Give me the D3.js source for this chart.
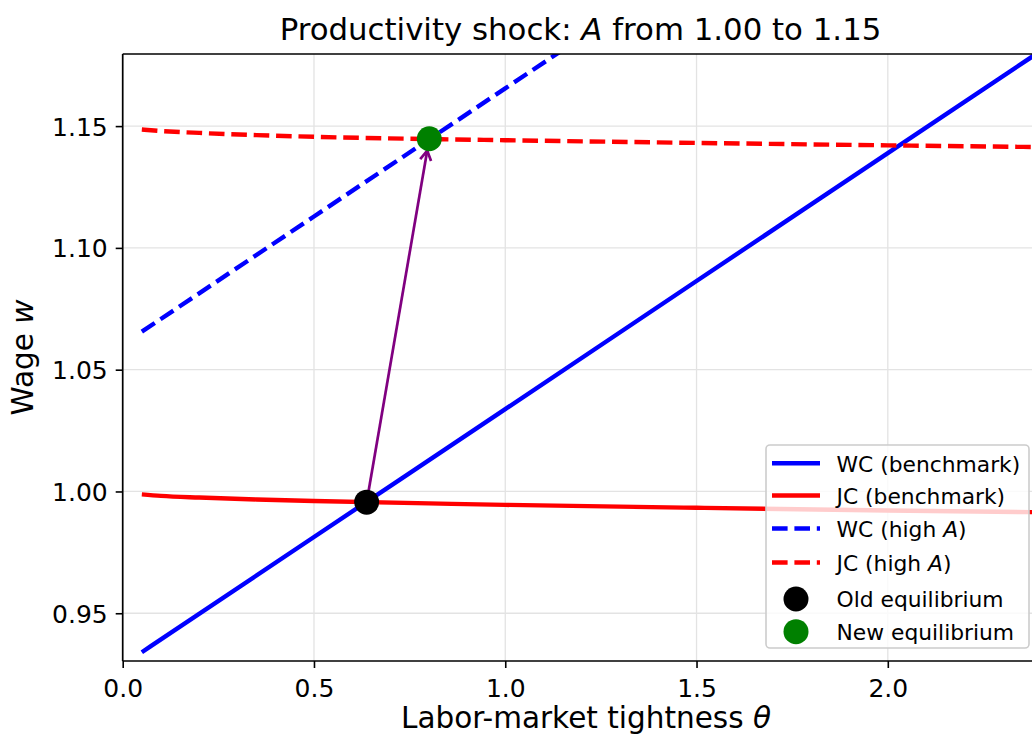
<!DOCTYPE html>
<html><head><meta charset="utf-8">
<script src="https://cdn.jsdelivr.net/npm/d3@7"></script>
<style>body{margin:0;background:#fff} text{font-family:"DejaVu Sans",sans-serif;fill:#000}</style>
</head><body><svg id="c" width="1032" height="735"></svg>
<script>
// ---- data ----
const thetaWC = [0.05, 0.5, 1.0, 1.5, 2.0, 2.5];
const wcBench = [0.934, 0.9813, 1.0338, 1.0864, 1.1389, 1.1914];
const thetaWCHigh = [0.05, 0.5, 1.0, 1.5];
const wcHigh = [1.0656, 1.1129, 1.1655, 1.2180];
const thetaJC = [0.05, 0.1, 0.2, 0.35, 0.5, 0.8, 1.0, 1.5, 2.0, 2.5];
const jcBench = [0.9988, 0.9982, 0.9975, 0.9967, 0.9961, 0.9951, 0.9945, 0.9933, 0.9922, 0.9913];
const jcHigh  = [1.1486, 1.1480, 1.1472, 1.1463, 1.1456, 1.1447, 1.1442, 1.1431, 1.1421, 1.1412];
const eqOld = [0.6377, 0.9956];
const eqNew = [0.8014, 1.1448];
const xTicks = [0.0, 0.5, 1.0, 1.5, 2.0];
const yTicks = [0.95, 1.00, 1.05, 1.10, 1.15];
const xDomain = [0, 2.39];
const yDomain = [0.9304, 1.1796];

const svg = d3.select("#c");
const L = 122.7, R = 1037, T = 54, B = 661;
const x = d3.scaleLinear().domain(xDomain).range([L, R]);
const y = d3.scaleLinear().domain(yDomain).range([B, T]);

svg.append("rect").attr("width",1032).attr("height",735).attr("fill","#fff");
svg.append("defs").append("clipPath").attr("id","clip")
  .append("rect").attr("x",L).attr("y",T).attr("width",R-L).attr("height",B-T);

// grid
const grid = svg.append("g").attr("clip-path","url(#clip)");
grid.selectAll(".gx").data(xTicks).join("line")
  .attr("x1",d=>x(d)).attr("x2",d=>x(d)).attr("y1",T).attr("y2",B)
  .attr("stroke","#e3e3e3").attr("stroke-width",1.3);
grid.selectAll(".gy").data(yTicks).join("line")
  .attr("y1",d=>y(d)).attr("y2",d=>y(d)).attr("x1",L).attr("x2",R)
  .attr("stroke","#e3e3e3").attr("stroke-width",1.3);

const plot = svg.append("g").attr("clip-path","url(#clip)");
const line = d3.line().x(d=>x(d[0])).y(d=>y(d[1])).curve(d3.curveMonotoneX);
const zip = (a,b)=>a.map((v,i)=>[v,b[i]]);
const DASH = "15.6 6.8";
const series = [
  {data: zip(thetaWC, wcBench), color:"#0000ff", dash:null},
  {data: zip(thetaJC, jcBench), color:"#ff0000", dash:null},
  {data: zip(thetaWCHigh, wcHigh), color:"#0000ff", dash:DASH},
  {data: zip(thetaJC, jcHigh), color:"#ff0000", dash:DASH}
];
series.forEach(s=>{
  plot.append("path").attr("d",line(s.data)).attr("fill","none")
    .attr("stroke",s.color).attr("stroke-width",4.4)
    .attr("stroke-dasharray",s.dash);
});

// arrow
const p0 = [x(eqOld[0]), y(eqOld[1])], p1 = [x(eqNew[0]), y(eqNew[1])];
const dx = p1[0]-p0[0], dy = p1[1]-p0[1], len = Math.hypot(dx,dy);
const ux = dx/len, uy = dy/len;
const tip = [p1[0]-ux*12, p1[1]-uy*12];
plot.append("line").attr("x1",p0[0]).attr("y1",p0[1]).attr("x2",tip[0]).attr("y2",tip[1])
  .attr("stroke","#800080").attr("stroke-width",2.7);
const hl = 11, ang = 30*Math.PI/180;
function rot(vx,vy,a){return [vx*Math.cos(a)-vy*Math.sin(a), vx*Math.sin(a)+vy*Math.cos(a)];}
const l1 = rot(-ux,-uy,ang), l2 = rot(-ux,-uy,-ang);
plot.append("path")
  .attr("d",`M${tip[0]+l1[0]*hl},${tip[1]+l1[1]*hl}L${tip[0]},${tip[1]}L${tip[0]+l2[0]*hl},${tip[1]+l2[1]*hl}`)
  .attr("fill","none").attr("stroke","#800080").attr("stroke-width",2.7);

// equilibrium points
plot.append("circle").attr("cx",x(eqOld[0])).attr("cy",y(eqOld[1])).attr("r",12.5).attr("fill","#000");
plot.append("circle").attr("cx",x(eqNew[0])).attr("cy",y(eqNew[1])).attr("r",12.5).attr("fill","#008000");

// spines
[[L,L,T,B],[L,R,B,B],[L,R,T,T],[R,R,T,B]].forEach(s=>{
  svg.append("line").attr("x1",s[0]).attr("x2",s[1]).attr("y1",s[2]).attr("y2",s[3])
    .attr("stroke","#000").attr("stroke-width",1.7);
});

// axes ticks
const xAxis = d3.axisBottom(x).tickValues(xTicks).tickFormat(d3.format(".1f")).tickSize(7).tickPadding(9);
const gx = svg.append("g").attr("transform",`translate(0,${B})`).call(xAxis);
gx.select(".domain").remove();
gx.selectAll("line").attr("stroke","#000").attr("stroke-width",1.6);
gx.selectAll("text").attr("font-size",25).attr("font-family","DejaVu Sans").attr("fill","#000").attr("dy",null).attr("y",36);

const yAxis = d3.axisLeft(y).tickValues(yTicks).tickFormat(d3.format(".2f")).tickSize(7).tickPadding(8);
const gy = svg.append("g").attr("transform",`translate(${L},0)`).call(yAxis);
gy.select(".domain").remove();
gy.selectAll("line").attr("stroke","#000").attr("stroke-width",1.6);
gy.selectAll("text").attr("font-size",25).attr("font-family","DejaVu Sans").attr("fill","#000").attr("dy","0.36em").attr("x",-15);

// title
const title = svg.append("text").attr("x",580.5).attr("y",40).attr("text-anchor","middle").attr("font-size",30.8);
title.append("tspan").text("Productivity shock: ");
title.append("tspan").attr("font-style","italic").text("A");
title.append("tspan").text(" from 1.00 to 1.15");

// axis labels
const xl = svg.append("text").attr("x",586).attr("y",728).attr("text-anchor","middle").attr("font-size",29.5);
xl.append("tspan").text("Labor-market tightness ");
xl.append("tspan").attr("font-style","italic").text("θ");
const yl = svg.append("text").attr("transform",`translate(33,${(T+B)/2}) rotate(-90)`).attr("text-anchor","middle").attr("font-size",29.5);
yl.append("tspan").text("Wage ");
yl.append("tspan").attr("font-style","italic").text("w");

// legend
const legendItems = [
  {pre:"WC (benchmark)", it:"", post:"", type:"line", color:"#0000ff", dash:null, cy:463.3},
  {pre:"JC (benchmark)", it:"", post:"", type:"line", color:"#ff0000", dash:null, cy:495.5},
  {pre:"WC (high ", it:"A", post:")", type:"line", color:"#0000ff", dash:DASH, cy:528.5},
  {pre:"JC (high ", it:"A", post:")", type:"line", color:"#ff0000", dash:DASH, cy:562.5},
  {pre:"Old equilibrium", it:"", post:"", type:"dot", color:"#000", cy:599},
  {pre:"New equilibrium", it:"", post:"", type:"dot", color:"#008000", cy:631.7}
];
const lg = svg.append("g");
lg.append("rect").attr("x",766).attr("y",445).attr("width",263).attr("height",203).attr("rx",4)
  .attr("fill","#fff").attr("fill-opacity",0.8).attr("stroke","#cccccc").attr("stroke-width",1.6);
legendItems.forEach(it=>{
  if(it.type==="line"){
    lg.append("line").attr("x1",772).attr("x2",820).attr("y1",it.cy).attr("y2",it.cy)
      .attr("stroke",it.color).attr("stroke-width",4.4).attr("stroke-dasharray",it.dash);
  } else {
    lg.append("circle").attr("cx",796).attr("cy",it.cy).attr("r",12.5).attr("fill",it.color);
  }
  const t = lg.append("text").attr("x",836.5).attr("y",it.cy+8.3).attr("font-size",21.8);
  t.append("tspan").text(it.pre);
  if(it.it){ t.append("tspan").attr("font-style","italic").text(it.it); t.append("tspan").text(it.post); }
});
</script></body></html>
